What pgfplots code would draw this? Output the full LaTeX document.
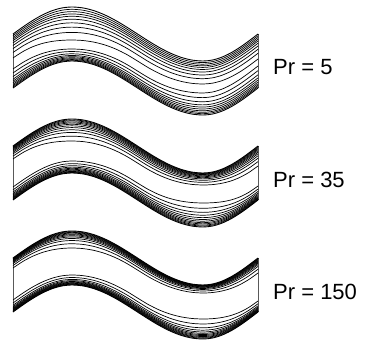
\documentclass[border=0pt]{standalone}
\usepackage{pgfplots}
\pgfplotsset{compat=1.18}
\usepackage{pgfplotstable}
\usepackage{fontspec}
\setmainfont{Liberation Sans}
% x: pixel position; s: wall displacement; U,L: thickness of upper/lower line groups per panel
\pgfplotstableread{
x s U1 L1 U2 L2 U3 L3
13 0 24 19 13 13 10 12
22.83 -6.99 24.6 18.53 13.6 12.93 10.47 11.87
32.67 -13.5 26.25 17.25 15.25 12.75 11.75 11.5
42.5 -19.09 28.5 15.5 17.5 12.5 13.5 11
52.33 -23.38 30.75 13.75 19.75 12.25 15.25 10.5
62.17 -26.08 32.4 12.47 21.4 12.07 16.53 10.13
72 -27 33 12 22 12 17 10
82.92 -26.08 32.6 12.33 21.67 12.33 16.67 10.27
93.83 -23.38 31.5 13.25 20.75 13.25 15.75 11
104.75 -19.09 30 14.5 19.5 14.5 14.5 12
115.67 -13.5 28.5 15.75 18.25 15.75 13.25 13
126.58 -6.99 27.4 16.67 17.33 16.67 12.33 13.73
137.5 0 27 17 17 17 12 14
148.42 6.99 26.73 17.33 16.67 17.47 11.73 14.4
159.33 13.5 26 18.25 15.75 18.75 11 15.5
170.25 19.09 25 19.5 14.5 20.5 10 17
181.17 23.38 24 20.75 13.25 22.25 9 18.5
192.08 26.08 23.27 21.67 12.33 23.53 8.27 19.6
203 27 23 22 12 24 8 20
212.17 26.08 23.13 22 12.53 23.33 8.47 19.4
221.33 23.38 23.5 22 14 21.5 9.75 17.75
230.5 19.09 24 22 16 19 11.5 15.5
239.67 13.5 24.5 22 18 16.5 13.25 13.25
248.83 6.99 24.87 22 19.47 14.67 14.53 11.6
258 0 25 22 20 14 15 11
}\wavy
\begin{document}
\begin{tikzpicture}
\begin{axis}[hide axis, scale only axis, width=367pt, height=342pt,
  xmin=0, xmax=367, ymin=0, ymax=342, y dir=reverse, clip=false,
  wall/.style={black, line width=0.9pt, smooth},
  iso/.style={black, line width=0.7pt, smooth}]
\path (rel axis cs:0,0) rectangle (rel axis cs:1,1);
% ---------- Panel 1: Pr = 5
\addplot[wall] table[x=x, y expr=34+\thisrow{s}] {\wavy};
\addplot[wall] table[x=x, y expr=88+\thisrow{s}] {\wavy};
\pgfplotsinvokeforeach{0.07,0.14,0.21,0.28,0.37,0.48,0.61,0.77,1.0}{
  \addplot[iso] table[x=x, y expr=34+\thisrow{s}+#1*\thisrow{U1}] {\wavy};}
\pgfplotsinvokeforeach{0.06,0.12,0.19,0.27,0.36,0.46,0.6,0.79,1.0}{
  \addplot[iso] table[x=x, y expr=88+\thisrow{s}-#1*\thisrow{L1}] {\wavy};}
\addplot[wall] coordinates {(13,34) (13,88)};
\addplot[wall] coordinates {(258,34) (258,88)};
% ---------- Panel 2: Pr = 35
\addplot[wall] table[x=x, y expr=146+\thisrow{s}] {\wavy};
\addplot[wall] table[x=x, y expr=200+\thisrow{s}] {\wavy};
\pgfplotsinvokeforeach{0.04,0.08,0.13,0.18,0.24,0.31,0.39,0.49,0.61,0.78,1.0}{
  \addplot[iso] table[x=x, y expr=146+\thisrow{s}+#1*\thisrow{U2}] {\wavy};}
\pgfplotsinvokeforeach{0.04,0.08,0.13,0.18,0.24,0.31,0.39,0.49,0.61,0.78,1.0}{
  \addplot[iso] table[x=x, y expr=200+\thisrow{s}-#1*\thisrow{L2}] {\wavy};}
\addplot[wall] coordinates {(13,146) (13,200)};
\addplot[wall] coordinates {(258,146) (258,200)};
% ---------- Panel 3: Pr = 150
\addplot[wall] table[x=x, y expr=258+\thisrow{s}] {\wavy};
\addplot[wall] table[x=x, y expr=312+\thisrow{s}] {\wavy};
\pgfplotsinvokeforeach{0.04,0.08,0.12,0.17,0.22,0.28,0.35,0.44,0.56,0.75,1.0}{
  \addplot[iso] table[x=x, y expr=258+\thisrow{s}+#1*\thisrow{U3}] {\wavy};}
\pgfplotsinvokeforeach{0.04,0.08,0.12,0.17,0.22,0.28,0.35,0.44,0.56,0.75,1.0}{
  \addplot[iso] table[x=x, y expr=312+\thisrow{s}-#1*\thisrow{L3}] {\wavy};}
\addplot[wall] coordinates {(13,258) (13,312)};
\addplot[wall] coordinates {(258,258) (258,312)};
% ---------- labels
\node[anchor=west, inner sep=0pt, font=\fontsize{22}{27}\selectfont] at (axis cs:273,67) {Pr = 5};
\node[anchor=west, inner sep=0pt, font=\fontsize{22}{27}\selectfont] at (axis cs:273,180) {Pr = 35};
\node[anchor=west, inner sep=0pt, font=\fontsize{22}{27}\selectfont] at (axis cs:273,292) {Pr = 150};
\end{axis}
\end{tikzpicture}
\end{document}
